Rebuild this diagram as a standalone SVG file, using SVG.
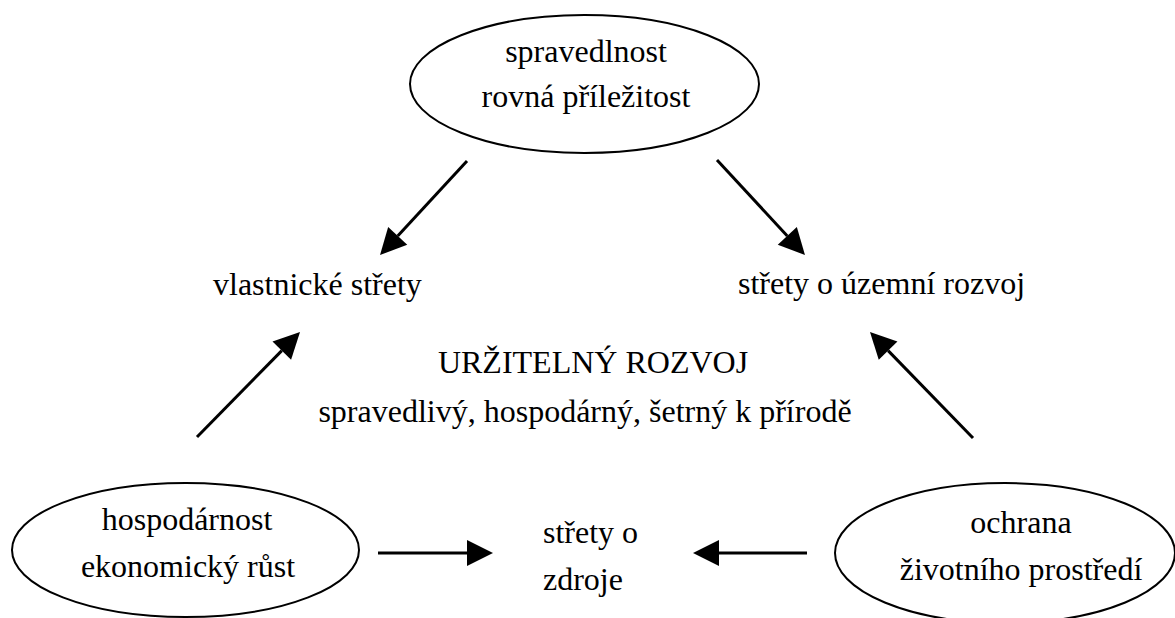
<svg xmlns="http://www.w3.org/2000/svg" width="1175" height="618" viewBox="0 0 1175 618">
<style>
text{font-family:"Liberation Serif","Times New Roman",serif;font-size:32px;fill:#000}
.c{text-anchor:middle}
ellipse{fill:#fff;stroke:#000;stroke-width:2}
.a{stroke:#000;stroke-width:3;fill:none;marker-end:url(#ah)}
</style>
<defs>
<marker id="ah" markerUnits="userSpaceOnUse" markerWidth="30" markerHeight="30" refX="0" refY="0" viewBox="0 -15 30 30" orient="auto" overflow="visible">
<path d="M0,-13 L26,0 L0,13 z" fill="#000"/>
</marker>
</defs>
<rect width="1175" height="618" fill="#fff"/>
<g id="n-spravedlnost">
<ellipse cx="584.5" cy="84" rx="174.5" ry="69"/>
<text class="c" x="586" y="62">spravedlnost</text>
<text class="c" x="586" y="107">rovná příležitost</text>
</g>
<g id="n-vlastnicke"><text x="213" y="295">vlastnické střety</text></g>
<g id="n-uzemni"><text x="738" y="294">střety o územní rozvoj</text></g>
<g id="n-center">
<text class="c" x="593" y="373">URŽITELNÝ ROZVOJ</text>
<text class="c" x="585" y="422">spravedlivý, hospodárný, šetrný k přírodě</text>
</g>
<g id="n-hospodarnost">
<ellipse cx="185.5" cy="550" rx="173.5" ry="67"/>
<text class="c" x="187" y="530">hospodárnost</text>
<text class="c" x="188" y="577">ekonomický růst</text>
</g>
<g id="n-zdroje">
<text x="543" y="543">střety o</text>
<text x="543" y="590">zdroje</text>
</g>
<g id="n-ochrana">
<ellipse cx="1005" cy="553" rx="170" ry="70"/>
<text class="c" x="1021" y="533">ochrana</text>
<text class="c" x="1021" y="580">životního prostředí</text>
</g>
<g id="connectors">
<line class="a" x1="467" y1="161" x2="397.7" y2="235.9"/>
<line class="a" x1="717" y1="160" x2="787.3" y2="235.9"/>
<line class="a" x1="197" y1="437" x2="281.8" y2="350.6"/>
<line class="a" x1="973" y1="438" x2="888.1" y2="350.6"/>
<line class="a" x1="378" y1="553" x2="467" y2="553"/>
<line class="a" x1="807" y1="553" x2="719" y2="553"/>
</g>
</svg>
